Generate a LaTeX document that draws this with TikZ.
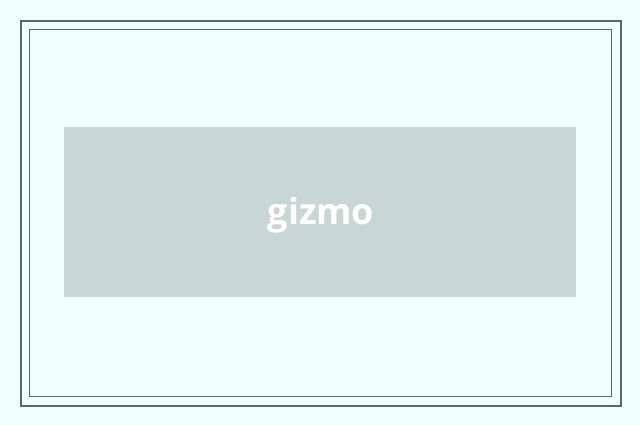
\documentclass[tikz,border=0pt]{standalone}
\usepackage{fontspec}
\setmainfont{Open Sans}
\definecolor{bgc}{HTML}{F0FFFF}
\definecolor{framec}{HTML}{566A6A}
\definecolor{boxc}{HTML}{C8D6D6}
\tikzset{
  outerframe/.style={draw=framec, line width=2pt},
  innerframe/.style={draw=framec, line width=1pt},
  panel/.style={fill=boxc, draw=none},
  label/.style={text=white, font=\fontsize{36}{42}\selectfont\bfseries, anchor=base, inner sep=0pt}
}
\begin{document}
\begin{tikzpicture}[x=1pt,y=1pt]
\useasboundingbox (0,0) rectangle (640,425);
\fill[bgc] (0,0) rectangle (640,425);
\draw[outerframe] (21,19) rectangle (621,404);
\draw[innerframe] (29.5,28.5) rectangle (611.5,395.5);
\node[panel, minimum width=512pt, minimum height=170pt, inner sep=0pt] (box) at (320,213) {};
\node[label] (txt) at (321,200) {gizmo};
\end{tikzpicture}
\end{document}
